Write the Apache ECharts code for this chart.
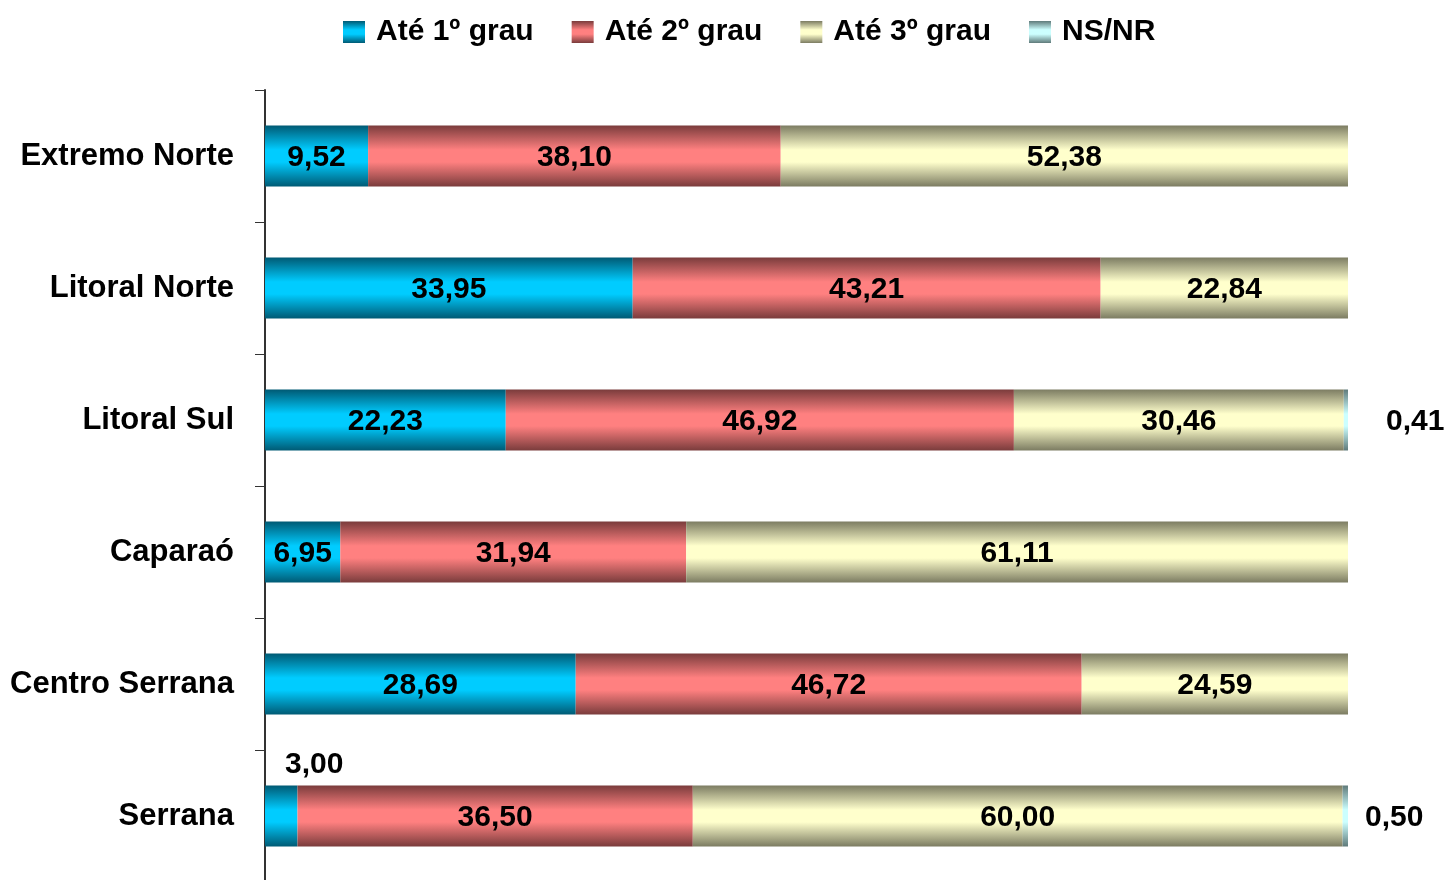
<!DOCTYPE html>
<html>
<head>
<meta charset="utf-8">
<script src="https://cdn.jsdelivr.net/npm/echarts@6/dist/echarts.min.js"></script>
<style>
  html, body { margin: 0; padding: 0; background: #fff; }
  #main { width: 1447px; height: 880px; }
</style>
</head>
<body>
<div id="main"></div>
<script>
// dados (%)
const categories = ["Extremo Norte", "Litoral Norte", "Litoral Sul", "Caparaó", "Centro Serrana", "Serrana"];
const seriesNames = ["Até 1º grau", "Até 2º grau", "Até 3º grau", "NS/NR"];
const ate1 = [9.52, 33.95, 22.23, 6.95, 28.69, 3.00];
const ate2 = [38.10, 43.21, 46.92, 31.94, 46.72, 36.50];
const ate3 = [52.38, 22.84, 30.46, 61.11, 24.59, 60.00];
const nsnr = [0, 0, 0.41, 0, 0, 0.50];

const FONT = "'Liberation Sans', Arial, sans-serif";

const chart = echarts.init(document.getElementById("main"));

// gradiente tipo cilindro (escuro nas bordas)
function tube(edge, mid) {
  return new echarts.graphic.LinearGradient(0, 0, 0, 1, [
    { offset: 0, color: edge },
    { offset: 0.4, color: mid },
    { offset: 0.6, color: mid },
    { offset: 1, color: edge }
  ]);
}

const fmt = v => v.toFixed(2).replace(".", ",");

const labelBase = {
  show: true,
  position: "inside",
  offset: [0, 2],
  fontFamily: FONT,
  fontSize: 30,
  fontWeight: "bold",
  color: "#000",
  formatter: p => (p.value > 0 ? fmt(p.value) : "")
};

function makeSeries(name, values, edge, mid, extra) {
  return {
    name: name,
    type: "bar",
    stack: "total",
    barWidth: 61,
    itemStyle: { color: tube(edge, mid) },
    label: labelBase,
    data: values.map((v, i) => {
      const item = { value: v };
      if (extra && extra[i]) item.label = extra[i];
      return item;
    })
  };
}

const option = {
  animation: false,
  backgroundColor: "#fff",
  legend: {
    top: 12,
    left: 338,
    icon: "rect",
    itemWidth: 22,
    itemHeight: 22,
    itemGap: 38,
    textStyle: { fontFamily: FONT, fontSize: 30, fontWeight: "bold", color: "#000", padding: [0, 0, 0, 6] },
    data: seriesNames
  },
  grid: { left: 265, right: 99, top: 90, bottom: -2, outerBoundsMode: "none", containLabel: false },
  xAxis: { type: "value", min: 0, max: 100, show: false },
  yAxis: {
    type: "category",
    inverse: true,
    data: categories,
    axisLine: { show: true, lineStyle: { color: "#333", width: 2 } },
    axisTick: { show: true, length: 10, lineStyle: { color: "#333", width: 1 } },
    axisLabel: { margin: 31, padding: [5, 0, 0, 0], fontFamily: FONT, fontSize: 31, fontWeight: "bold", color: "#000" }
  },
  series: [
    makeSeries(seriesNames[0], ate1, "#005a74", "#00ccff", { 5: { position: "top", offset: [33, 0], distance: 6 } }),
    makeSeries(seriesNames[1], ate2, "#7a3c3c", "#ff8080"),
    makeSeries(seriesNames[2], ate3, "#7c7c62", "#ffffcc"),
    makeSeries(seriesNames[3], nsnr, "#5f7a7a", "#ccffff", {
      2: { position: "right", distance: 38, offset: [0, 2] },
      5: { position: "right", distance: 17, offset: [0, 2] }
    })
  ]
};

chart.setOption(option);
</script>
</body>
</html>
